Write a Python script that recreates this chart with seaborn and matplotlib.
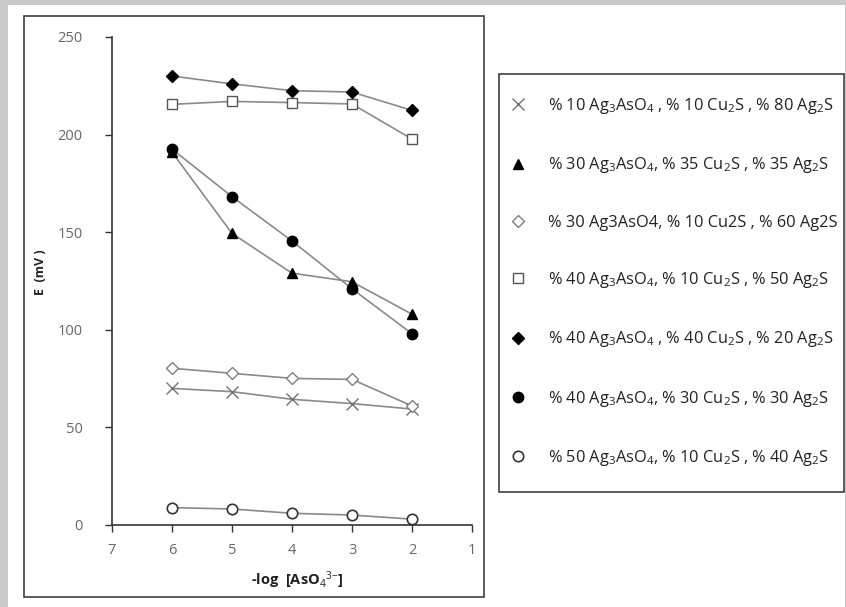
import matplotlib
matplotlib.use("Agg")
import matplotlib.pyplot as plt
import seaborn as sns
import pandas as pd
from matplotlib.patches import Rectangle

sns.set_theme(style="white")
plt.rcParams['font.family'] = ['Open Sans', 'DejaVu Sans']
plt.rcParams['mathtext.fontset'] = 'custom'
plt.rcParams['mathtext.rm'] = 'Open Sans'
plt.rcParams['mathtext.it'] = 'Open Sans'
plt.rcParams['mathtext.bf'] = 'Open Sans:bold'

x_vals = [6, 5, 4, 3, 2]
s_10_10_80 = [70, 68.3, 64.4, 62.2, 59.4]
s_30_35_35 = [191, 149.4, 129, 124.6, 108]
s_30_10_60 = [80.3, 77.7, 75.1, 74.6, 61]
s_40_10_50 = [215.5, 217, 216.4, 215.7, 197.7]
s_40_40_20 = [230, 226, 222.5, 221.8, 212.4]
s_40_30_30 = [192.6, 168.2, 145.5, 121, 98]
s_50_10_40 = [8.9, 8.2, 6, 5.1, 3]

labels = [
    r"% 10 Ag$_3$AsO$_4$ , % 10 Cu$_2$S , % 80 Ag$_2$S",
    r"% 30 Ag$_3$AsO$_4$, % 35 Cu$_2$S , % 35 Ag$_2$S",
    r"% 30 Ag3AsO4, % 10 Cu2S , % 60 Ag2S",
    r"% 40 Ag$_3$AsO$_4$, % 10 Cu$_2$S , % 50 Ag$_2$S",
    r"% 40 Ag$_3$AsO$_4$ , % 40 Cu$_2$S , % 20 Ag$_2$S",
    r"% 40 Ag$_3$AsO$_4$, % 30 Cu$_2$S , % 30 Ag$_2$S",
    r"% 50 Ag$_3$AsO$_4$, % 10 Cu$_2$S , % 40 Ag$_2$S",
]
series = [s_10_10_80, s_30_35_35, s_30_10_60, s_40_10_50, s_40_40_20, s_40_30_30, s_50_10_40]
styles = [
    dict(marker='x', mfc='none', mec='#707070', ms=9, mew=1.0),
    dict(marker='^', mfc='black', mec='black', ms=7.5),
    dict(marker='D', mfc='white', mec='#808080', ms=6, mew=1.0),
    dict(marker='s', mfc='white', mec='#555555', ms=7.5, mew=1.0),
    dict(marker='D', mfc='black', mec='black', ms=6),
    dict(marker='o', mfc='black', mec='black', ms=7.5),
    dict(marker='o', mfc='white', mec='#333333', ms=7.5, mew=1.2),
]

fig = plt.figure(figsize=(8.46, 6.07), dpi=100)
W, H = 846, 607
# outer gray frame
fig.patches.append(Rectangle((0, 0), 1, 1, transform=fig.transFigure, facecolor='#c9c9c9', edgecolor='none', zorder=-3))
fig.patches.append(Rectangle((8/W, 0), 1 - 8/W - 1/W, 1 - 5/H, transform=fig.transFigure, facecolor='white', edgecolor='none', zorder=-2))
# chart box
fig.patches.append(Rectangle((24/W, 1 - 597/H), (484-24)/W, (597-16)/H, transform=fig.transFigure,
                             facecolor='white', edgecolor='#404040', lw=1.2, zorder=-1))
# legend box
fig.patches.append(Rectangle((499/W, 1 - 492/H), (844-499)/W, (492-74)/H, transform=fig.transFigure,
                             facecolor='white', edgecolor='#404040', lw=1.2, zorder=-1))

ax = fig.add_axes([112/W, 1 - 525/H, (472-112)/W, (525-37)/H])
handles = []
for vals, lab, st in zip(series, labels, styles):
    df = pd.DataFrame({'x': x_vals, 'y': vals})
    sns.lineplot(data=df, x='x', y='y', ax=ax, color='#8a8a8a', lw=1.2, legend=False)
    h, = ax.plot(x_vals, vals, linestyle='none', label=lab, zorder=3, **st)
    handles.append(h)

ax.set_xlim(7, 1)
ax.set_ylim(0, 250)
ax.set_xticks([7, 6, 5, 4, 3, 2, 1])
ax.set_yticks([0, 50, 100, 150, 200, 250])
for s in ['top', 'right']:
    ax.spines[s].set_visible(False)
for s in ['left', 'bottom']:
    ax.spines[s].set_color('#333333')
    ax.spines[s].set_linewidth(1.2)
ax.tick_params(axis='both', which='both', direction='out', length=5, width=1.0, colors='#333333',
               labelcolor='#666666', labelsize=10.5, pad=8, bottom=True, left=True)
ax.tick_params(axis='y', pad=16)
ax.set_xlabel('')
ax.set_ylabel('')
fig.text(297/W, 1 - 580/H, r"-log  [AsO$_4$$^{3\mathrm{-}}$]", ha='center', va='center',
         fontsize=10.5, fontweight='bold', color='#222222')
fig.text(40/W, 1 - 272/H, "E  (mV )", ha='center', va='center', rotation=90,
         fontsize=9, fontweight='bold', color='#222222')

leg = fig.legend(handles=handles, labels=labels, loc='upper left',
                 bbox_to_anchor=(510/W, 1 - 96/H), bbox_transform=fig.transFigure,
                 frameon=False, fontsize=11.8, labelspacing=2.4, handlelength=1.0,
                 handletextpad=1.3, borderpad=0, borderaxespad=0,
                 labelcolor='#222222')

fig.savefig('out.png', dpi=100)
